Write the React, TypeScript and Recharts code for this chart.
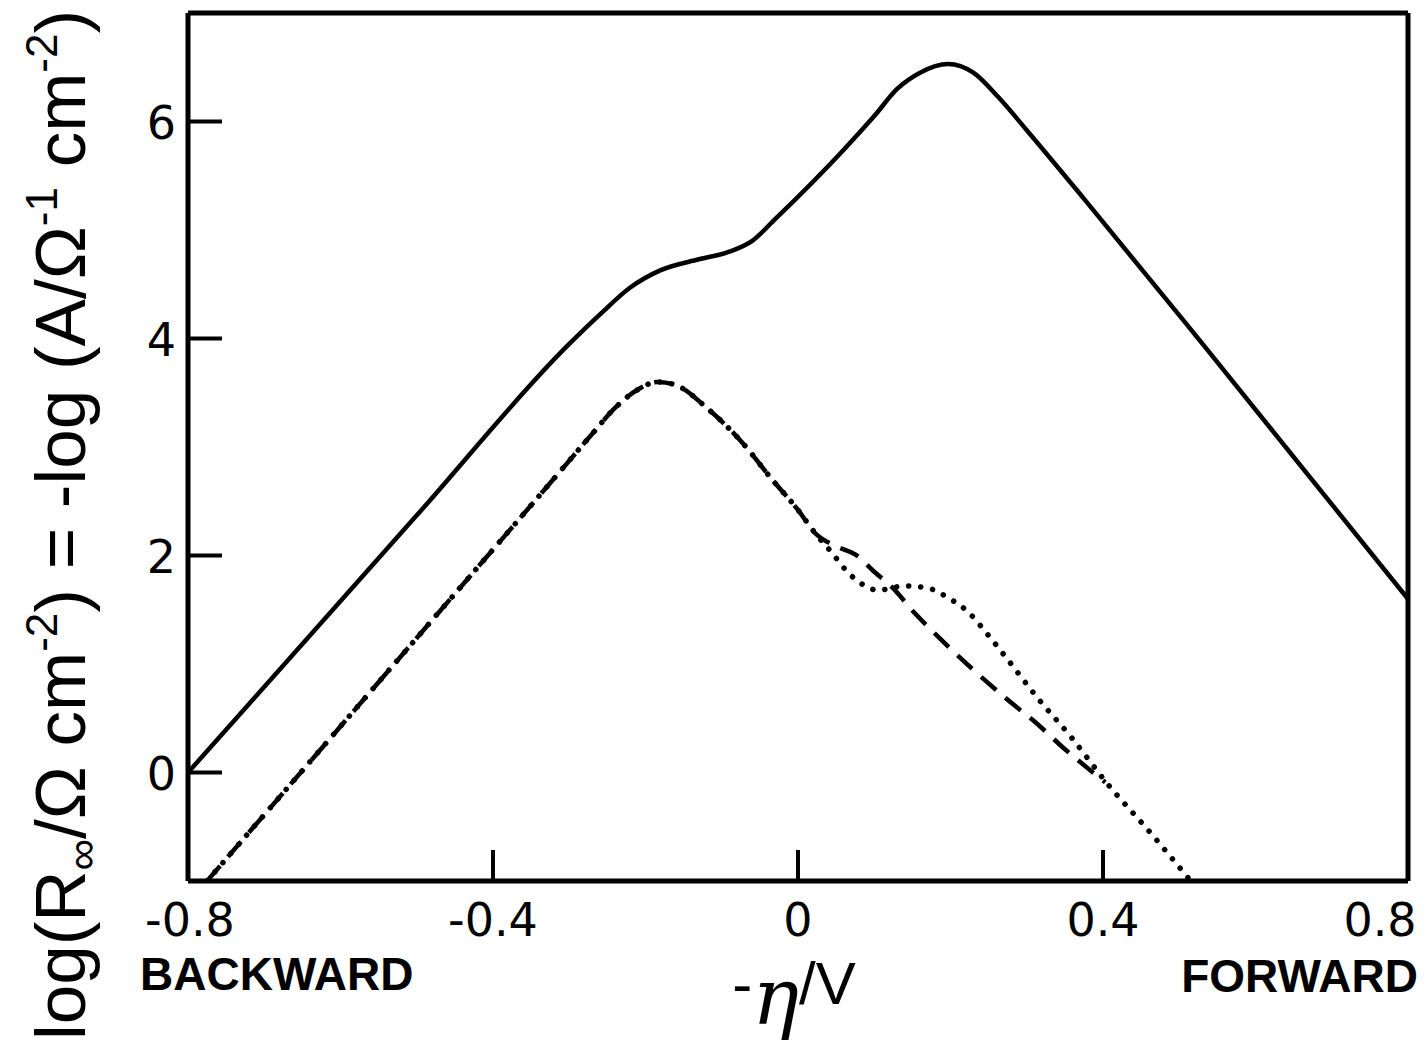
import { LineChart, Line, XAxis, YAxis } from 'recharts'

// -eta / V
const solidX = [-0.8, -0.5, -0.3, -0.26, -0.22, -0.18, -0.13, -0.09, -0.06, -0.03, 0.06, 0.1, 0.13, 0.16, 0.197, 0.23, 0.262, 0.3, 0.376, 0.534, 0.8]
const solidY = [0, 2.37, 3.95, 4.22, 4.47, 4.63, 4.73, 4.8, 4.9, 5.1, 5.74, 6.05, 6.3, 6.45, 6.53, 6.45, 6.23, 5.92, 5.28, 3.92, 1.6]

const dashedX = [-0.775, -0.5, -0.315, -0.27, -0.24, -0.21, -0.184, -0.16, -0.118, -0.073, -0.034, 0, 0.022, 0.052, 0.075, 0.1, 0.123, 0.153, 0.184, 0.275, 0.315, 0.346, 0.403]
const dashedY = [-1, 1.24, 2.75, 3.12, 3.36, 3.53, 3.6, 3.57, 3.35, 3.04, 2.7, 2.42, 2.21, 2.08, 2.01, 1.85, 1.71, 1.47, 1.25, 0.67, 0.44, 0.24, -0.09]

const dottedX = [-0.775, -0.5, -0.315, -0.27, -0.24, -0.21, -0.184, -0.16, -0.118, -0.073, -0.034, 0, 0.022, 0.044, 0.066, 0.088, 0.105, 0.14, 0.17, 0.197, 0.223, 0.249, 0.274, 0.315, 0.359, 0.403, 0.464, 0.515]
const dottedY = [-1, 1.24, 2.75, 3.12, 3.36, 3.53, 3.6, 3.57, 3.35, 3.04, 2.7, 2.42, 2.21, 2.03, 1.84, 1.72, 1.68, 1.72, 1.7, 1.61, 1.48, 1.27, 1.05, 0.68, 0.32, -0.08, -0.57, -1]

const xTicks = [-0.8, -0.4, 0, 0.4, 0.8]
const yTicks = [0, 2, 4, 6]
const xTickLabels = ['-0.8', '-0.4', '0', '0.4', '0.8']

const toPoints = (xs: number[], ys: number[]) => xs.map((x, i) => ({ x, y: ys[i] }))
const solidData = toPoints(solidX, solidY)
const dashedData = toPoints(dashedX, dashedY)
const dottedData = toPoints(dottedX, dottedY)

const TICK_FONT = { fontFamily: 'DejaVu Sans', fontSize: 46 }
const AXIS_LINE = { stroke: '#000', strokeWidth: 5 }

function BottomTick({ x, y, payload }: any) {
  const v = payload.value
  const idx = xTicks.indexOf(v)
  const shift = v === 0.8 ? -28 : v === -0.8 ? 2 : 0
  const showLine = v > -0.8 && v < 0.8
  return (
    <g>
      {showLine && <line x1={x} y1={y} x2={x} y2={y - 31} stroke="#000" strokeWidth={4} />}
      <text x={x + shift} y={y + 55} textAnchor="middle" fill="#000" {...TICK_FONT}>
        {xTickLabels[idx]}
      </text>
    </g>
  )
}

function TopTick({ x, y, payload }: any) {
  const v = payload.value
  if (v <= -0.8 || v >= 0.8) return <g />
  return <line x1={x} y1={y} x2={x} y2={y + 30} stroke="#000" strokeWidth={4} />
}

function LeftTick({ x, y, payload }: any) {
  return (
    <g>
      <line x1={x} y1={y} x2={x + 34} y2={y} stroke="#000" strokeWidth={4} />
      <text x={x - 12} y={y + 17} textAnchor="end" fill="#000" {...TICK_FONT}>
        {payload.value}
      </text>
    </g>
  )
}

function RightTick({ x, y }: any) {
  return <line x1={x} y1={y} x2={x - 31} y2={y} stroke="#000" strokeWidth={4} />
}

function XTitles() {
  return (
    <g fill="#000">
      <text x={132} y={982} fontFamily="Liberation Sans" fontWeight="bold" fontSize={46}>
        BACKWARD
      </text>
      <text x={1410} y={984} textAnchor="end" fontFamily="Liberation Sans" fontWeight="bold" fontSize={46}>
        FORWARD
      </text>
      <text x={786} y={996} textAnchor="middle" fontFamily="Liberation Sans" fontSize={60}>
        -<tspan fontFamily="DejaVu Serif" fontStyle="italic" fontSize={78} dy={20}>η</tspan>
        <tspan dy={-20}>/V</tspan>
      </text>
    </g>
  )
}

function YTitle() {
  const cx = 77
  const cy = 517
  return (
    <text
      x={cx}
      y={cy}
      transform={`rotate(-90, ${cx}, ${cy})`}
      textAnchor="middle"
      fontFamily="Liberation Sans"
      fontSize={71}
      fill="#000"
    >
      log(R<tspan fontSize={44} dy={12}>∞</tspan>
      <tspan dy={-12}>/Ω cm</tspan>
      <tspan fontSize={44} dy={-28}>-2</tspan>
      <tspan dy={28}>) = -log (A/Ω</tspan>
      <tspan fontSize={44} dy={-28}>-1</tspan>
      <tspan dy={28}> cm</tspan>
      <tspan fontSize={44} dy={-28}>-2</tspan>
      <tspan dy={28}>)</tspan>
    </text>
  )
}

export default function App() {
  return (
    <LineChart width={1420} height={1050} margin={{ top: 4, right: 19, left: 179, bottom: 176 }}>
      <XAxis
        xAxisId="b"
        dataKey="x"
        type="number"
        domain={[-0.8, 0.8]}
        ticks={xTicks}
        height={1}
        tickSize={0}
        tickMargin={0}
        tickLine={false}
        axisLine={AXIS_LINE}
        tick={<BottomTick />}
        interval={0}
        allowDataOverflow
        label={{ content: () => <XTitles /> }}
      />
      <XAxis
        xAxisId="t"
        orientation="top"
        dataKey="x"
        type="number"
        domain={[-0.8, 0.8]}
        ticks={xTicks}
        height={1}
        tickSize={0}
        tickMargin={0}
        tickLine={false}
        axisLine={AXIS_LINE}
        tick={<TopTick />}
        interval={0}
      />
      <YAxis
        yAxisId="l"
        type="number"
        domain={[-1, 7]}
        ticks={yTicks}
        width={1}
        tickSize={0}
        tickMargin={0}
        tickLine={false}
        axisLine={AXIS_LINE}
        tick={<LeftTick />}
        interval={0}
        allowDataOverflow
        label={{ content: () => <YTitle /> }}
      />
      <YAxis
        yAxisId="r"
        orientation="right"
        type="number"
        domain={[-1, 7]}
        ticks={yTicks}
        width={1}
        tickSize={0}
        tickMargin={0}
        tickLine={false}
        axisLine={AXIS_LINE}
        tick={<RightTick />}
        interval={0}
      />
      <Line
        xAxisId="b"
        yAxisId="l"
        data={solidData}
        dataKey="y"
        type="monotone"
        stroke="#000"
        strokeWidth={4.5}
        dot={false}
        activeDot={false}
        isAnimationActive={false}
      />
      <Line
        xAxisId="b"
        yAxisId="l"
        data={dashedData}
        dataKey="y"
        type="monotone"
        stroke="#000"
        strokeWidth={4.5}
        strokeDasharray="20 12"
        dot={false}
        activeDot={false}
        isAnimationActive={false}
      />
      <Line
        xAxisId="b"
        yAxisId="l"
        data={dottedData}
        dataKey="y"
        type="monotone"
        stroke="#000"
        strokeWidth={5.5}
        strokeLinecap="round"
        strokeDasharray="0.1 12"
        dot={false}
        activeDot={false}
        isAnimationActive={false}
      />
    </LineChart>
  )
}
